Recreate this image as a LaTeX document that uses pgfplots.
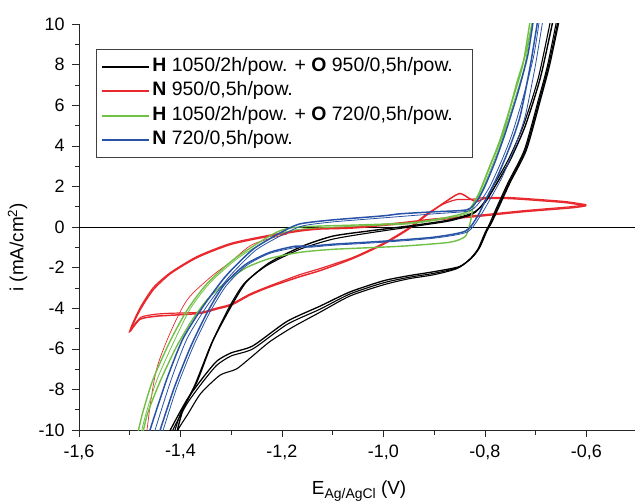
\documentclass[border=0pt]{standalone}
\usepackage{pgfplots}
\pgfplotsset{compat=1.18}
\usepackage{fontspec}
\setmainfont{Liberation Sans}

\definecolor{cvred}{RGB}{232,40,45}
\definecolor{cvgreen}{RGB}{112,192,70}
\definecolor{cvblue}{RGB}{40,82,165}

\begin{document}
\begin{tikzpicture}
\begin{axis}[
    scale only axis,
    width=558bp, height=406bp,
    xmin=-1.6, xmax=-0.5,
    ymin=-10, ymax=10,
    axis x line=bottom, axis y line=left,
    axis line style={-, black!85, line width=0.6pt},
    xtick={-1.6,-1.4,-1.2,-1.0,-0.8,-0.6},
    xticklabels={{-1,6},{-1,4},{-1,2},{-1,0},{-0,8},{-0,6}},
    ytick={-10,-8,-6,-4,-2,0,2,4,6,8,10},
    yticklabels={-10,-8,-6,-4,-2,0,2,4,6,8,10},
    minor x tick num=1, minor y tick num=1,
    tick align=outside,
    major tick length=7bp, minor tick length=4.5bp,
    tick style={black!85, line width=0.6pt},
    ticklabel style={font=\fontsize{18}{20}\selectfont},
    xticklabel style={yshift=-4bp},
    yticklabel style={xshift=-4bp},
    xlabel={E\raisebox{-4bp}{\fontsize{14}{15}\selectfont Ag/AgCl} (V)},
    ylabel={i (mA/cm\textsuperscript{2})},
    every axis x label/.style={at={(axis description cs:0.502,-0.160)}, anchor=base, font=\fontsize{19}{21}\selectfont},
    every axis y label/.style={at={(axis description cs:-0.110,0.45)}, anchor=center, rotate=90, font=\fontsize{19}{21}\selectfont},
    legend style={at={(axis description cs:0.0306,0.938)}, anchor=north west,
        draw=black!75, line width=0.6pt, inner xsep=5bp, inner ysep=5bp,
        font=\fontsize{19.5}{21}\selectfont, legend cell align=left,
        nodes={text height=14.5bp, text depth=5bp, inner sep=2.5bp}},
    legend image code/.code={\draw[#1] (2bp,0bp) -- (49bp,0bp);},
]
\addlegendimage{black, line width=1.6pt}
\addlegendentry{\textbf{H} 1050/2h/pow. + \textbf{O} 950/0,5h/pow.\hspace*{12bp}}
\addlegendimage{cvred, line width=1.6pt}
\addlegendentry{\textbf{N} 950/0,5h/pow.}
\addlegendimage{cvgreen, line width=1.6pt}
\addlegendentry{\textbf{H} 1050/2h/pow. + \textbf{O} 720/0,5h/pow.}
\addlegendimage{cvblue, line width=1.6pt}
\addlegendentry{\textbf{N} 720/0,5h/pow.}

% zero line
\addplot[black, line width=0.6pt, forget plot] coordinates {(-1.6,0) (-0.5,0)};

% N 950/0,5h/pow.
\addplot[cvred, line width=1.5pt, forget plot, smooth, tension=0.4] coordinates {
(-0.600,1.05) (-0.627,0.95) (-0.725,0.75) (-0.824,0.5) (-0.900,0.35) (-0.970,0.15)
(-1.060,-0.05) (-1.125,-0.1) (-1.165,-0.2) (-1.224,-0.45) (-1.300,-0.85) (-1.367,-1.5)
(-1.420,-2.3) (-1.454,-3.1) (-1.480,-4.1) (-1.500,-5.15)
(-1.480,-4.55) (-1.450,-4.4) (-1.420,-4.35) (-1.360,-4.25) (-1.330,-4.05) (-1.300,-3.85)
(-1.263,-3.35) (-1.224,-2.95) (-1.165,-2.45) (-1.125,-2.15) (-1.060,-1.55) (-1.000,-0.85)
(-0.950,-0.1) (-0.914,0.6) (-0.880,1.2) (-0.850,1.65) (-0.830,1.4) (-0.816,1.25)
(-0.800,1.4) (-0.750,1.4) (-0.690,1.3) (-0.640,1.2) (-0.600,1.05)};
\addplot[cvred, line width=1.2pt, forget plot, smooth, tension=0.4] coordinates {
(-0.600,1.1) (-0.630,1.0) (-0.725,0.8) (-0.824,0.55) (-0.900,0.4) (-0.970,0.2)
(-1.060,0.0) (-1.125,-0.05) (-1.165,-0.15) (-1.224,-0.4) (-1.300,-0.8) (-1.367,-1.45)
(-1.420,-2.25) (-1.454,-3.0) (-1.480,-4.0) (-1.498,-5.0)
(-1.478,-4.45) (-1.450,-4.3) (-1.420,-4.25) (-1.360,-4.2) (-1.330,-4.0) (-1.300,-3.8)
(-1.263,-3.3) (-1.224,-2.9) (-1.165,-2.35) (-1.125,-2.05) (-1.060,-1.5) (-1.000,-0.8)
(-0.950,-0.05) (-0.914,0.65) (-0.880,1.15) (-0.855,1.35) (-0.830,1.35) (-0.800,1.45)
(-0.750,1.45) (-0.690,1.35) (-0.640,1.25) (-0.600,1.1)};
\addplot[cvred, line width=0.7pt, forget plot, smooth] coordinates {
(-1.190,-0.35) (-1.257,-0.85) (-1.300,-1.7) (-1.342,-2.5) (-1.387,-3.6) (-1.420,-5.2)
(-1.446,-6.9) (-1.458,-8.5) (-1.466,-10) (-1.470,-10.6)};

% H 1050/2h/pow. + O 950/0,5h/pow.
\addplot[black, line width=1.3pt, forget plot, smooth, tension=0.4] coordinates {
(-0.650,10.6) (-0.672,8.0) (-0.690,6.3) (-0.718,3.8) (-0.750,2.2) (-0.772,1.0)
(-0.787,0.2) (-0.796,-0.2) (-0.810,-1.0) (-0.825,-1.5) (-0.850,-1.95) (-0.900,-2.2)
(-0.950,-2.4) (-1.000,-2.65) (-1.066,-3.2) (-1.125,-3.9) (-1.190,-4.65) (-1.257,-5.85)
(-1.300,-6.2) (-1.328,-6.6) (-1.355,-7.4) (-1.387,-8.5) (-1.420,-10) (-1.430,-10.6)};
\addplot[black, line width=1.4pt, forget plot, smooth, tension=0.4] coordinates {
(-1.412,-10.6) (-1.395,-9.0) (-1.367,-7.6) (-1.336,-5.6) (-1.300,-3.9) (-1.270,-2.7)
(-1.224,-1.75) (-1.160,-0.95) (-1.100,-0.45) (-1.030,-0.2) (-0.934,0.1) (-0.869,0.35)
(-0.823,0.7) (-0.800,1.2) (-0.780,2.0) (-0.750,3.3) (-0.720,5.0) (-0.690,7.4) (-0.662,10.6)};
\addplot[black, line width=1.1pt, forget plot, smooth, tension=0.4] coordinates {
(-0.655,10.6) (-0.676,8.0) (-0.694,6.3) (-0.722,3.8) (-0.754,2.2) (-0.776,1.0)
(-0.790,0.2) (-0.800,-0.3) (-0.814,-1.1) (-0.830,-1.6) (-0.855,-2.05) (-0.900,-2.35)
(-0.950,-2.55) (-1.000,-2.85) (-1.066,-3.4) (-1.125,-4.2) (-1.180,-4.95) (-1.224,-5.65)
(-1.260,-6.4) (-1.290,-7.0) (-1.322,-7.3) (-1.360,-8.2) (-1.385,-9.2) (-1.405,-10) (-1.410,-10.6)};
\addplot[black, line width=1.1pt, forget plot, smooth, tension=0.4] coordinates {
(-1.418,-10.6) (-1.400,-9.2) (-1.372,-7.8) (-1.340,-5.8) (-1.305,-4.0) (-1.275,-2.8)
(-1.230,-1.9) (-1.165,-1.1) (-1.100,-0.6) (-1.030,-0.3) (-0.934,0.05) (-0.869,0.3)
(-0.823,0.65) (-0.802,1.2) (-0.784,2.0) (-0.754,3.3) (-0.724,5.0) (-0.694,7.4) (-0.667,10.6)};
\addplot[black, line width=1.1pt, forget plot, smooth, tension=0.4] coordinates {
(-0.652,10.6) (-0.674,8.0) (-0.692,6.3) (-0.720,3.8) (-0.752,2.2) (-0.774,1.0)
(-0.788,0.2) (-0.798,-0.25) (-0.812,-1.05) (-0.828,-1.55) (-0.852,-2.0) (-0.900,-2.28)
(-0.950,-2.48) (-1.000,-2.75) (-1.066,-3.3) (-1.125,-4.05) (-1.190,-4.8) (-1.257,-6.0)
(-1.300,-6.35) (-1.328,-6.8) (-1.355,-7.6) (-1.387,-8.7) (-1.415,-10) (-1.422,-10.6)};

% H 1050/2h/pow. + O 720/0,5h/pow.
\addplot[cvgreen, line width=1.4pt, forget plot, smooth, tension=0.4] coordinates {
(-0.702,10.6) (-0.720,8.5) (-0.737,7.1) (-0.764,4.6) (-0.790,3.0) (-0.810,1.7)
(-0.823,1.0) (-0.828,0.3) (-0.838,-0.45) (-0.869,-0.75) (-0.967,-0.95) (-1.100,-1.1)
(-1.165,-1.25) (-1.224,-1.55) (-1.270,-2.0) (-1.310,-2.7) (-1.348,-3.6) (-1.380,-4.7)
(-1.410,-6.0) (-1.440,-7.6) (-1.465,-9.2) (-1.478,-10.6)};
\addplot[cvgreen, line width=1.4pt, forget plot, smooth, tension=0.4] coordinates {
(-1.488,-10.6) (-1.475,-9.2) (-1.454,-7.5) (-1.420,-5.6) (-1.387,-4.1) (-1.348,-2.8)
(-1.290,-1.5) (-1.210,-0.25) (-1.165,0.0) (-1.050,0.1) (-0.948,0.2) (-0.880,0.45)
(-0.835,0.75) (-0.815,1.5) (-0.806,2.0) (-0.790,3.0) (-0.770,4.3) (-0.745,6.3)
(-0.725,8.0) (-0.708,10.6)};
\addplot[cvgreen, line width=0.8pt, forget plot, smooth, tension=0.4] coordinates {
(-1.482,-10.6) (-1.468,-9.2) (-1.446,-7.5) (-1.412,-5.6) (-1.380,-4.0) (-1.340,-2.7)
(-1.282,-1.45) (-1.205,-0.35) (-1.160,-0.1) (-1.050,0.05) (-0.948,0.15) (-0.880,0.4)
(-0.832,0.7) (-0.812,1.5) (-0.802,2.0) (-0.786,3.0) (-0.766,4.3) (-0.741,6.3)
(-0.721,8.0) (-0.704,10.6)};

% N 720/0,5h/pow.
\addplot[cvblue, line width=0.8pt, forget plot, smooth, tension=0.4] coordinates {
(-0.683,10.6) (-0.700,8.0) (-0.720,5.5) (-0.740,4.0) (-0.765,2.5) (-0.790,1.35)
(-0.810,0.5) (-0.835,-0.25) (-0.900,-0.55) (-1.000,-0.75) (-1.100,-0.9) (-1.145,-1.0)
(-1.170,-1.0) (-1.224,-1.3) (-1.270,-1.9) (-1.310,-2.9) (-1.342,-4.2) (-1.375,-5.9)
(-1.407,-7.9) (-1.434,-10) (-1.440,-10.6)};
\addplot[cvblue, line width=1.5pt, forget plot, smooth, tension=0.4] coordinates {
(-0.693,10.6) (-0.710,8.0) (-0.730,5.5) (-0.750,4.0) (-0.775,2.5) (-0.798,1.35)
(-0.815,0.5) (-0.838,-0.2) (-0.900,-0.5) (-1.000,-0.7) (-1.100,-0.85) (-1.145,-0.95)
(-1.175,-0.95) (-1.224,-1.25) (-1.272,-1.85) (-1.314,-2.85) (-1.347,-4.2) (-1.380,-5.9)
(-1.412,-7.9) (-1.440,-10) (-1.446,-10.6)};
\addplot[cvblue, line width=1.5pt, forget plot, smooth, tension=0.4] coordinates {
(-1.465,-10.6) (-1.460,-10) (-1.427,-7.5) (-1.395,-5.5) (-1.355,-3.9) (-1.310,-2.4)
(-1.257,-1.1) (-1.204,-0.3) (-1.165,0.15) (-1.100,0.35) (-1.000,0.55) (-0.967,0.65)
(-0.900,0.75) (-0.835,0.85) (-0.815,1.3) (-0.800,2.0) (-0.780,3.2) (-0.760,4.6)
(-0.735,6.6) (-0.715,8.5) (-0.702,10.6)};
\addplot[cvblue, line width=0.8pt, forget plot, smooth, tension=0.4] coordinates {
(-1.455,-10.6) (-1.450,-10) (-1.418,-7.5) (-1.387,-5.5) (-1.348,-3.9) (-1.304,-2.45)
(-1.252,-1.15) (-1.200,-0.4) (-1.160,0.05) (-1.100,0.25) (-1.000,0.45) (-0.900,0.65)
(-0.830,0.8) (-0.808,1.3) (-0.790,2.0) (-0.768,3.2) (-0.746,4.6) (-0.722,6.6)
(-0.703,8.5) (-0.690,10.6)};
\end{axis}
\pgfresetboundingbox
\useasboundingbox (-79bp,-74bp) rectangle (556bp,430bp);
\end{tikzpicture}
\end{document}
